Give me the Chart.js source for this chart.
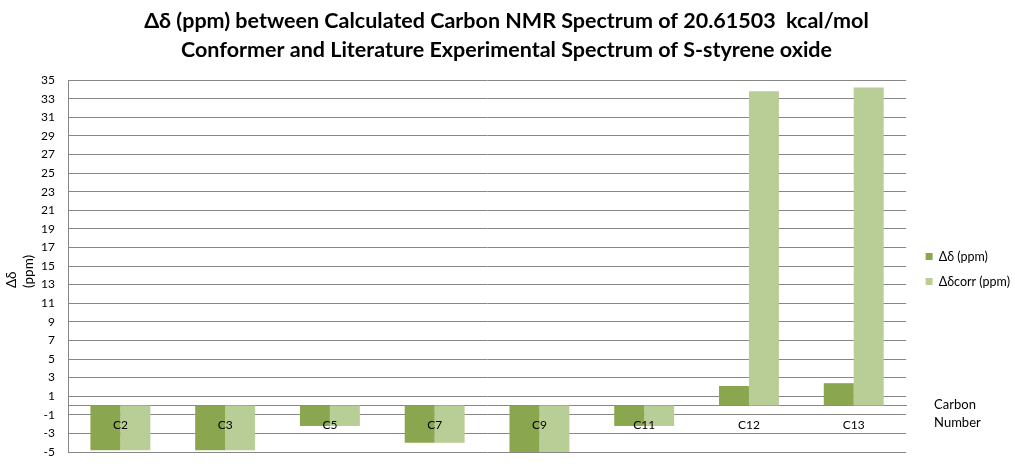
<!DOCTYPE html>
<html lang="en">
<head>
    <meta charset="UTF-8">
    <title>Δδ (ppm) S-styrene oxide</title>
    <script src="https://cdn.jsdelivr.net/npm/chart.js"></script>
    <style>
        html, body { margin: 0; padding: 0; background: #ffffff; }
        #wrap { width: 1015px; height: 464px; }
    </style>
</head>
<body>
    <div id="wrap"><canvas id="nmrChart"></canvas></div>
    <script>
        const carbons = ['C2', 'C3', 'C5', 'C7', 'C9', 'C11', 'C12', 'C13'];
        const deltaPpm = [-4.8, -4.8, -2.2, -4.0, -5.0, -2.2, 2.1, 2.4];
        const deltaCorrPpm = [-4.8, -4.8, -2.2, -4.0, -5.0, -2.2, 33.8, 34.2];
        const titleLines = [
            'Δδ (ppm) between Calculated Carbon NMR Spectrum of 20.61503  kcal/mol',
            'Conformer and Literature Experimental Spectrum of S-styrene oxide'
        ];
        const yTitle = ['Δδ', '(ppm)'];
        const xTitle = ['Carbon', 'Number'];

        const fontFamily = 'Lato, "Open Sans", sans-serif';
        const gridColor = '#878787';

        // axis titles sit where Excel put them, so draw them by hand
        const axisTitles = {
            id: 'axisTitles',
            afterLayout(chart) {
                // nudge the legend a bit off the plot, like the original
                const lg = chart.legend;
                lg.left += 7; lg.right += 7;
                lg.top += 3; lg.bottom += 3;
            },
            afterDraw(chart) {
                const ctx = chart.ctx;
                const area = chart.chartArea;
                const zeroY = chart.scales.y.getPixelForValue(0);
                ctx.save();
                ctx.fillStyle = '#000';
                ctx.font = '13.5px ' + fontFamily;
                ctx.textBaseline = 'middle';
                ctx.textAlign = 'left';
                [12, 29].forEach((x, i) => {
                    ctx.save();
                    ctx.translate(x, 288);
                    ctx.rotate(-Math.PI / 2);
                    ctx.fillText(yTitle[i], 0, 0);
                    ctx.restore();
                });
                ctx.font = '13px ' + fontFamily;
                ctx.fillText(xTitle[0], area.right + 28, zeroY - 1);
                ctx.fillText(xTitle[1], area.right + 28, zeroY + 17);
                ctx.restore();
            }
        };

        new Chart(document.getElementById('nmrChart'), {
            type: 'bar',
            data: {
                labels: carbons,
                datasets: [{
                    label: 'Δδ (ppm)',
                    data: deltaPpm,
                    backgroundColor: '#8aa64f'
                }, {
                    label: 'Δδcorr (ppm)',
                    data: deltaCorrPpm,
                    backgroundColor: '#b9cd96'
                }]
            },
            options: {
                responsive: true,
                maintainAspectRatio: false,
                animation: false,
                layout: { padding: { left: 0, right: 2, bottom: 12, top: 0 } },
                datasets: {
                    bar: { categoryPercentage: 0.572, barPercentage: 1.0 }
                },
                plugins: {
                    title: {
                        display: true,
                        text: titleLines,
                        color: '#000',
                        font: { family: fontFamily, size: 21.5, weight: 'bold', lineHeight: 1.35 },
                        padding: { top: 7, bottom: 15 }
                    },
                    legend: {
                        position: 'right',
                        fullSize: false,
                        labels: {
                            boxWidth: 7,
                            boxHeight: 7,
                            padding: 12.5,
                            color: '#000',
                            font: { family: fontFamily, size: 12.5 }
                        }
                    },
                    tooltip: { enabled: false }
                },
                scales: {
                    x: {
                        position: { y: 0 },
                        grid: { display: false, drawTicks: false },
                        border: { display: true, color: gridColor },
                        ticks: {
                            z: 1,
                            padding: 12,
                            color: '#000',
                            font: { family: fontFamily, size: 12 }
                        },
                        afterFit(scale) { scale.height = 0; }
                    },
                    y: {
                        min: -5,
                        max: 35,
                        grid: { color: gridColor, drawTicks: false },
                        border: { display: true, color: gridColor },
                        ticks: {
                            stepSize: 2,
                            padding: 13,
                            color: '#000',
                            font: { family: fontFamily, size: 12 }
                        },
                        afterFit(scale) {
                            scale.width = 68;
                            scale.paddingTop = 0;
                            scale.paddingBottom = 0;
                        }
                    }
                }
            },
            plugins: [axisTitles]
        });
    </script>
</body>
</html>
